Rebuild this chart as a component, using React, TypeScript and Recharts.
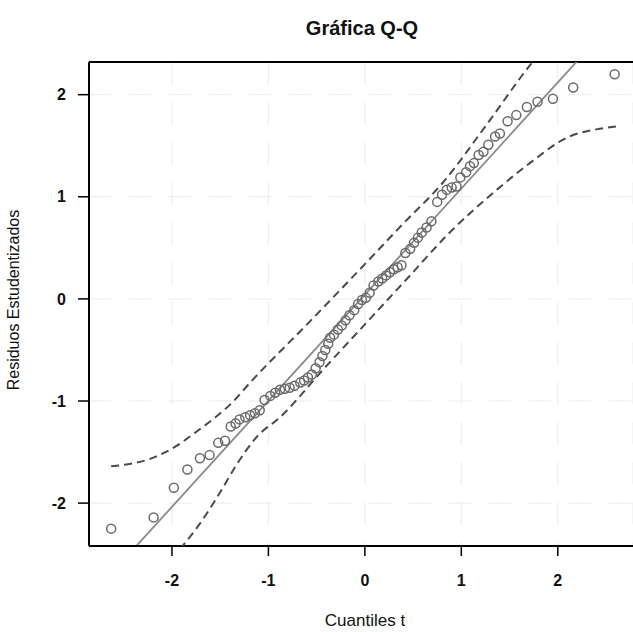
import { ScatterChart, Scatter, XAxis, YAxis, CartesianGrid, ReferenceLine } from 'recharts';

// theoretical t quantiles (x) and sorted studentized residuals (y)
const quantiles = [
    -2.63, -2.19, -1.98, -1.84, -1.71, -1.61, -1.52, -1.45, -1.39, -1.34,
    -1.30, -1.24, -1.19, -1.14, -1.09, -1.04, -0.98, -0.93, -0.88, -0.83,
    -0.78, -0.73, -0.67, -0.63, -0.59, -0.55, -0.51, -0.47, -0.44, -0.41,
    -0.38, -0.36, -0.32, -0.28, -0.24, -0.20, -0.16, -0.11, -0.07, -0.03,
    0.01, 0.05, 0.09, 0.14, 0.18, 0.22, 0.26, 0.30, 0.34, 0.38,
    0.42, 0.47, 0.51, 0.55, 0.59, 0.64, 0.69, 0.75, 0.80, 0.85,
    0.90, 0.95, 0.99, 1.05, 1.09, 1.13, 1.18, 1.23, 1.28, 1.35,
    1.40, 1.48, 1.57, 1.68, 1.79, 1.95, 2.16, 2.59
];

const residuals = [
    -2.25, -2.14, -1.85, -1.67, -1.56, -1.53, -1.41, -1.39, -1.25, -1.22,
    -1.18, -1.16, -1.14, -1.12, -1.09, -0.99, -0.95, -0.92, -0.89, -0.88,
    -0.87, -0.85, -0.82, -0.80, -0.77, -0.74, -0.68, -0.62, -0.56, -0.50,
    -0.44, -0.38, -0.35, -0.30, -0.26, -0.21, -0.16, -0.11, -0.05, -0.01,
    0.01, 0.06, 0.13, 0.17, 0.20, 0.23, 0.26, 0.29, 0.31, 0.33,
    0.45, 0.49, 0.55, 0.60, 0.65, 0.70, 0.76, 0.95, 1.02, 1.07,
    1.09, 1.10, 1.19, 1.24, 1.30, 1.33, 1.41, 1.44, 1.51, 1.59,
    1.62, 1.74, 1.80, 1.88, 1.93, 1.96, 2.07, 2.20
];

// confidence envelope
const upperX = [-2.63, -2.18, -1.97, -1.76, -1.55, -1.38, -1.19, -0.6, 0, 0.4, 0.81, 1.25, 1.73, 1.9];
const upperY = [-1.64, -1.55, -1.45, -1.31, -1.16, -1.02, -0.82, -0.25, 0.34, 0.74, 1.14, 1.69, 2.31, 2.5];
const lowerX = [-2.0, -1.89, -1.74, -1.53, -1.30, -1.12, -0.88, -0.44, 0, 0.44, 0.88, 1.37, 1.71, 2.12, 2.40, 2.61];
const lowerY = [-2.55, -2.42, -2.24, -1.94, -1.58, -1.35, -1.16, -0.70, -0.25, 0.20, 0.65, 1.07, 1.33, 1.59, 1.66, 1.69];

// reference line end points
const lineX = [-2.86, 2.78];
const lineY = [-2.93, 2.93];

const xTicks = [-2, -1, 0, 1, 2];
const yTicks = [-2, -1, 0, 1, 2];

const font = '"Liberation Sans", Arial, sans-serif';

const points = quantiles.map((q, i) => ({ x: q, y: residuals[i] }));
const upper = upperX.map((v, i) => ({ x: v, y: upperY[i] }));
const lower = lowerX.map((v, i) => ({ x: v, y: lowerY[i] }));

const noDot = () => <g />;

export default function App() {
    const tickStyle = { fontFamily: font, fontSize: 16, fontWeight: 'bold', fill: '#111' };
    const band = { stroke: '#4a4a4a', strokeWidth: 2, strokeDasharray: '8 5' };

    return (
        <div style={{ position: 'absolute', left: 0, top: 0, width: 633, height: 632, background: '#fff' }}>
            <div style={{
                position: 'absolute', left: 362, top: 28, transform: 'translate(-50%, -50%)',
                fontFamily: font, fontWeight: 'bold', fontSize: 20, whiteSpace: 'nowrap', color: '#111'
            }}>
                Gráfica Q-Q
            </div>
            <div style={{
                position: 'absolute', left: 14, top: 300, transform: 'translate(-50%, -50%) rotate(-90deg)',
                fontFamily: font, fontSize: 16, whiteSpace: 'nowrap', color: '#111'
            }}>
                Residuos Estudentizados
            </div>
            <div style={{
                position: 'absolute', left: 365, top: 621, transform: 'translate(-50%, -50%)',
                fontFamily: font, fontSize: 17, whiteSpace: 'nowrap', color: '#111'
            }}>
                Cuantiles t
            </div>
            <ScatterChart width={633} height={632} margin={{ top: 62, right: 0, bottom: 0, left: 0 }}>
                <CartesianGrid stroke="#ebebeb" strokeDasharray="22 18" />
                <XAxis
                    type="number"
                    dataKey="x"
                    domain={[-2.86, 2.78]}
                    ticks={xTicks}
                    allowDataOverflow
                    height={86}
                    tickSize={10}
                    tickMargin={19}
                    tick={tickStyle}
                    axisLine={{ stroke: '#000', strokeWidth: 2 }}
                    tickLine={{ stroke: '#000', strokeWidth: 1.5 }}
                />
                <YAxis
                    type="number"
                    dataKey="y"
                    domain={[-2.42, 2.32]}
                    ticks={yTicks}
                    allowDataOverflow
                    width={89}
                    tickSize={11}
                    tickMargin={12}
                    tick={tickStyle}
                    axisLine={{ stroke: '#000', strokeWidth: 2 }}
                    tickLine={{ stroke: '#000', strokeWidth: 1.5 }}
                />
                <ReferenceLine y={2.32} stroke="#000" strokeWidth={2} />
                <ReferenceLine
                    segment={[{ x: lineX[0], y: lineY[0] }, { x: lineX[1], y: lineY[1] }]}
                    stroke="#8a8a8a"
                    strokeWidth={1.8}
                    ifOverflow="hidden"
                />
                <Scatter data={upper} line={band} lineJointType="monotoneX" shape={noDot} isAnimationActive={false} />
                <Scatter data={lower} line={band} lineJointType="monotoneX" shape={noDot} isAnimationActive={false} />
                <Scatter
                    data={points}
                    fill="none"
                    stroke="#6a6a6a"
                    strokeWidth={1.5}
                    shape={(p: any) => <circle cx={p.cx} cy={p.cy} r={4.5} fill="none" stroke="#6a6a6a" strokeWidth={1.5} />}
                    isAnimationActive={false}
                />
            </ScatterChart>
        </div>
    );
}
